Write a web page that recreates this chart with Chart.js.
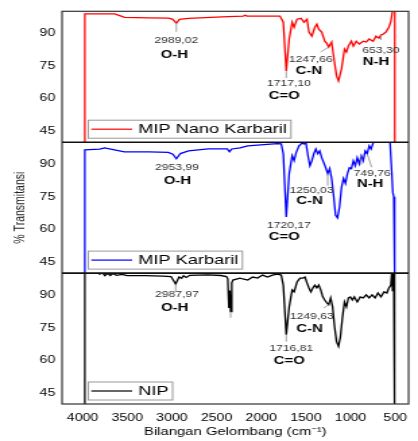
<!DOCTYPE html>
<html>
<head>
<meta charset="utf-8">
<script src="https://cdn.jsdelivr.net/npm/chart.js@4.4.1/dist/chart.umd.min.js"></script>
<style>
  html, body { margin: 0; padding: 0; background: #fff; }
</style>
</head>
<body>
<!-- drawn narrow and stretched sideways, like the original picture -->
<canvas id="ftir" width="310" height="441" style="display:block;width:418px;height:441px"></canvas>
<script>
// wavenumber (cm-1) and % transmittance
var nanoWn = [3975, 3975, 3640, 3530, 3260, 3040, 2995, 2950, 2915, 2815, 2370, 2200, 2180, 2160, 2040, 1790, 1753, 1720, 1687, 1654, 1632, 1599, 1555, 1521, 1488, 1466, 1433, 1400, 1378, 1356, 1323, 1289, 1267, 1245, 1212, 1190, 1157, 1135, 1101, 1068, 1046, 1024, 991, 969, 936, 903, 858, 825, 792, 748, 715, 682, 660, 637, 604, 571, 549, 527, 505, 505];
var nanoT = [40, 98.8, 98.8, 97.2, 97.0, 96.9, 96.4, 94.6, 96.3, 96.8, 97.6, 97.8, 98.2, 97.8, 97.8, 97.8, 95.0, 72.6, 87.3, 95.0, 92.7, 96.4, 96.8, 95.0, 96.4, 90.5, 88.6, 92.7, 94.1, 91.8, 90.5, 86.3, 85.4, 83.6, 85.9, 79.5, 70.4, 68.1, 73.6, 82.7, 81.3, 84.1, 86.3, 84.0, 86.3, 85.0, 86.3, 85.9, 87.3, 86.3, 88.6, 87.7, 89.1, 89.5, 90.5, 92.7, 95.4, 101, 101, 40];

var mipWn = [3975, 3975, 3809, 3753, 3643, 3532, 3256, 3040, 2990, 2950, 2905, 2814, 2704, 2593, 2380, 2355, 2330, 2238, 2151, 1820, 1776, 1753, 1720, 1687, 1654, 1632, 1610, 1577, 1544, 1521, 1499, 1477, 1455, 1433, 1411, 1389, 1367, 1345, 1323, 1300, 1278, 1256, 1234, 1212, 1190, 1168, 1146, 1124, 1101, 1079, 1057, 1035, 1013, 991, 969, 947, 925, 903, 880, 858, 836, 814, 792, 770, 748, 737, 650, 560, 538, 527, 516, 508, 505];
var mipT = [40, 96.5, 96.8, 97.4, 96.5, 95.6, 95.6, 95.3, 94.5, 92.4, 94.8, 96.0, 96.5, 96.9, 96.9, 95.6, 96.9, 97.4, 98.3, 99.3, 99.2, 94.7, 65.7, 85.6, 93.8, 91.5, 95.1, 98.3, 99.6, 99.2, 99.6, 93.8, 89.2, 91.5, 94.7, 96.9, 94.7, 96.0, 92.9, 90.6, 88.3, 85.6, 87.9, 83.4, 75.7, 66.6, 65.3, 70.2, 79.3, 83.4, 81.1, 85.6, 88.3, 87.9, 91.5, 89.2, 92.9, 90.1, 93.8, 91.5, 96.0, 94.7, 98.3, 96.9, 99.6, 101, 104, 101, 85.6, 77.0, 75, 60, 40];

var nipWn = [3975, 3975, 3860, 3809, 3780, 3750, 3720, 3690, 3660, 3620, 3560, 3500, 3300, 3100, 3010, 2958, 2920, 2892, 2870, 2840, 2800, 2600, 2450, 2390, 2375, 2362, 2352, 2343, 2330, 2317, 2238, 2206, 2151, 2096, 2041, 1985, 1930, 1875, 1820, 1776, 1753, 1720, 1687, 1654, 1632, 1599, 1566, 1532, 1510, 1488, 1466, 1444, 1422, 1400, 1378, 1356, 1334, 1311, 1289, 1267, 1245, 1223, 1201, 1179, 1157, 1135, 1113, 1090, 1068, 1046, 1024, 1002, 980, 958, 925, 892, 858, 825, 792, 759, 726, 693, 660, 626, 593, 571, 549, 538, 530, 522, 515, 510, 505];
var nipT = [40, 102, 101, 99.5, 100.2, 98.8, 99.9, 98.9, 99.8, 99.0, 99.4, 98.8, 98.8, 98.6, 98.4, 95.0, 98.2, 97.6, 98.8, 98.0, 99.0, 99.2, 98.9, 98.4, 97.5, 84, 92, 82.3, 95.5, 96.8, 97.7, 97.3, 96.8, 98.2, 97.7, 99.1, 98.2, 99.1, 99.5, 99.1, 94.5, 71.8, 84.5, 92.3, 91.4, 95.9, 97.7, 97.7, 98.2, 95.5, 93.2, 91.4, 93.2, 94.5, 93.2, 94.5, 92.3, 89.1, 87.7, 86.4, 85.5, 88.6, 84.5, 75.5, 68.6, 66.4, 70.9, 80.0, 86.8, 84.5, 88.6, 89.1, 87.7, 89.1, 86.8, 89.1, 88.6, 90.0, 88.6, 90.0, 88.6, 90.9, 89.1, 91.4, 90.9, 93.2, 94.5, 101, 92, 101, 91, 101, 40];

var seriesLabels = ['MIP Nano Karbaril', 'MIP Karbaril', 'NIP'];
var seriesColors = ['#ff0000', '#0000ff', '#000000'];

var xTicks = [4000, 3500, 3000, 2500, 2000, 1500, 1000, 500];
var yTicks = [45, 60, 75, 90];

// marked bands: which spectrum, where, and the printed text
var peakSeries = [0, 0, 0, 0, 1, 1, 1, 1, 1, 2, 2, 2, 2];
var peakWn = [2950, 1720, 1245, 660, 2950, 1720, 1256, 814, 880, 2958, 2343, 1720, 1245];
var peakT = [94.6, 72.6, 83.6, 89.1, 92.4, 65.7, 85.6, 94.7, 93.8, 95.0, 82.3, 71.8, 85.5];
var peakNum = ['2989,02', '1717,10', '1247,66', '653,30', '2953,99', '1720,17', '1250,03', '749,76', '', '2987,97', '', '1716,81', '1249,63'];
var peakGroup = ['O-H', 'C=O', 'C-N', 'N-H', 'O-H', 'C=O', 'C-N', 'N-H', '', 'O-H', '', 'C=O', 'C-N'];

// label placement relative to the band (px): leader end, number, group name
var peakLayout = [
  { lead: [0, 8.7], num: [0, 17], grp: [-1.5, 32] },
  { lead: [0, 7], num: [2, 12], grp: [-1.5, 24.5] },
  { lead: [-6, 5], num: [-13.2, 12.5], grp: [-14.7, 24] },
  { lead: [0, 5], num: [0, 15], grp: [-3.7, 27] },
  { lead: null, num: [0.5, 8.7], grp: [0.7, 22] },
  { lead: null, num: [2, 8.3], grp: [-1.5, 19.5] },
  { lead: [0, 12], num: [-11.9, 17], grp: [-13.4, 27] },
  { lead: [3.3, 13.4], num: [3.7, 20], grp: [2.2, 30.7] },
  { lead: [0, 9], num: null, grp: null },
  { lead: [0, 7.7], num: [1, 11], grp: [-0.7, 24] },
  { lead: [0, 6], num: null, grp: null },
  { lead: [0, 7], num: [3.7, 13.7], grp: [2.2, 26.7] },
  { lead: [-3.7, 3.3], num: [-12.6, 12], grp: [-14.1, 24] }
];

var FONT = '"Liberation Sans", Arial, sans-serif';
var panelIds = ['y1', 'y2', 'y3'];

function toPoints(wn, t) {
  return wn.map(function (w, i) { return { x: w, y: t[i] }; });
}

function panelScale(weight, withTitle) {
  return {
    type: 'linear',
    position: 'left',
    stack: 'ftir',
    stackWeight: 1,
    weight: weight,
    min: 40,
    max: 100,
    grid: { display: false, drawTicks: false },
    border: { display: false },
    afterBuildTicks: function (scale) {
      scale.ticks = yTicks.map(function (v) { return { value: v }; });
    },
    afterFit: function (scale) { scale.width = 46; },
    ticks: {
      padding: 5,
      color: '#000',
      font: { family: FONT, size: 10.5 }
    },
    title: {
      display: withTitle,
      text: '% Transmitansi',
      color: '#222',
      padding: { top: 8.5, bottom: 0 },
      font: { family: FONT, size: 10.5 }
    }
  };
}

// keep each spectrum inside its own panel
var clipPlugin = {
  id: 'panelClip',
  beforeDatasetDraw: function (chart, args) {
    var sc = chart.scales[args.meta.yAxisID], a = chart.chartArea, ctx = chart.ctx;
    ctx.save();
    ctx.beginPath();
    ctx.rect(a.left, sc.top, a.right - a.left, sc.bottom - sc.top);
    ctx.clip();
  },
  afterDatasetDraw: function (chart) {
    chart.ctx.restore();
  }
};

var framePlugin = {
  id: 'frame',
  afterDatasetsDraw: function (chart) {
    var ctx = chart.ctx, a = chart.chartArea;
    ctx.save();
    ctx.strokeStyle = '#333';
    ctx.lineWidth = 1.2;
    ctx.strokeRect(a.left, a.top, a.right - a.left, a.bottom - a.top);
    ctx.strokeStyle = '#111';
    ctx.lineWidth = 1.6;
    panelIds.slice(0, 2).forEach(function (id) {
      var y = chart.scales[id].bottom;
      ctx.beginPath();
      ctx.moveTo(a.left, y);
      ctx.lineTo(a.right, y);
      ctx.stroke();
    });
    ctx.restore();
  }
};

var peakPlugin = {
  id: 'peakLabels',
  afterDatasetsDraw: function (chart) {
    var ctx = chart.ctx, xs = chart.scales.x;
    ctx.save();
    ctx.textAlign = 'center';
    ctx.textBaseline = 'middle';
    peakWn.forEach(function (w, i) {
      var ys = chart.scales[panelIds[peakSeries[i]]];
      var px = xs.getPixelForValue(w), py = ys.getPixelForValue(peakT[i]);
      var l = peakLayout[i];
      if (l.lead) {
        ctx.strokeStyle = '#888';
        ctx.lineWidth = 0.8;
        ctx.beginPath();
        ctx.moveTo(px, py);
        ctx.lineTo(px + l.lead[0], py + l.lead[1]);
        ctx.stroke();
      }
      if (l.num && peakNum[i]) {
        ctx.fillStyle = '#333';
        ctx.font = '9px ' + FONT;
        ctx.fillText(peakNum[i], px + l.num[0], py + l.num[1]);
      }
      if (l.grp && peakGroup[i]) {
        ctx.fillStyle = '#000';
        ctx.font = 'bold 11px ' + FONT;
        ctx.fillText(peakGroup[i], px + l.grp[0], py + l.grp[1]);
      }
    });
    ctx.restore();
  }
};

// one legend box in the lower left corner of every panel
var legendPlugin = {
  id: 'panelLegends',
  afterDraw: function (chart) {
    var ctx = chart.ctx, a = chart.chartArea;
    chart.data.datasets.forEach(function (ds) {
      var sc = chart.scales[ds.yAxisID];
      ctx.save();
      ctx.font = '13.5px ' + FONT;
      var tw = ctx.measureText(ds.label).width;
      var h = 18, x = a.left + 19.5, y = sc.bottom - 4 - h, w = 37 + tw + 3;
      ctx.fillStyle = '#fff';
      ctx.fillRect(x, y, w, h);
      ctx.strokeStyle = '#999';
      ctx.lineWidth = 1;
      ctx.strokeRect(x, y, w, h);
      ctx.strokeStyle = ds.borderColor;
      ctx.lineWidth = 1.2;
      ctx.beginPath();
      ctx.moveTo(x + 2.2, y + h / 2);
      ctx.lineTo(x + 32.5, y + h / 2);
      ctx.stroke();
      ctx.fillStyle = '#000';
      ctx.textBaseline = 'middle';
      ctx.fillText(ds.label, x + 37, y + h / 2 + 0.5);
      ctx.restore();
    });
  }
};

var spectra = [toPoints(nanoWn, nanoT), toPoints(mipWn, mipT), toPoints(nipWn, nipT)];

var ftirChart = new Chart(document.getElementById('ftir'), {
  type: 'scatter',
  data: {
    datasets: spectra.map(function (pts, i) {
      return {
        label: seriesLabels[i],
        data: pts,
        yAxisID: panelIds[i],
        showLine: true,
        borderColor: seriesColors[i],
        backgroundColor: seriesColors[i],
        borderWidth: 1.3,
        pointRadius: 0,
        tension: 0
      };
    })
  },
  options: {
    responsive: false,
    animation: false,
    layout: { padding: { top: 10, right: 3.7, left: 0, bottom: 0 } },
    plugins: {
      legend: { display: false },
      tooltip: { enabled: false }
    },
    scales: {
      x: {
        type: 'linear',
        reverse: true,
        min: 350,
        max: 4230,
        grid: { display: false, drawTicks: false },
        border: { display: false },
        afterBuildTicks: function (scale) {
          scale.ticks = xTicks.map(function (v) { return { value: v }; });
        },
        afterFit: function (scale) { scale.height = 37; },
        ticks: {
          padding: 8,
          color: '#000',
          maxRotation: 0,
          font: { family: FONT, size: 10.5 },
          callback: function (v) { return String(v); }
        },
        title: {
          display: true,
          text: 'Bilangan Gelombang (cm\u207B\u00B9)',
          color: '#000',
          padding: { top: 0, bottom: 2 },
          font: { family: FONT, size: 11 }
        }
      },
      y1: panelScale(3, false),
      y2: panelScale(2, true),
      y3: panelScale(1, false)
    }
  },
  plugins: [clipPlugin, framePlugin, peakPlugin, legendPlugin]
});
</script>
</body>
</html>
